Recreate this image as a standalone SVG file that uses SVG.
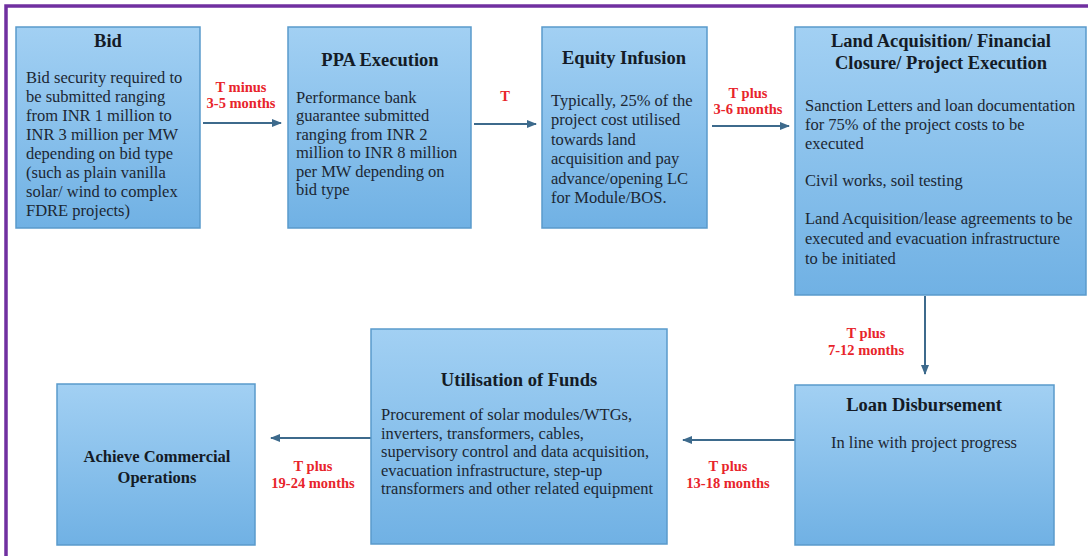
<svg xmlns="http://www.w3.org/2000/svg" width="1088" height="556" viewBox="0 0 1088 556">
<defs>
<linearGradient id="boxg" x1="0" y1="0" x2="0" y2="1">
<stop offset="0" stop-color="#a2d0f3"/>
<stop offset="1" stop-color="#70b1e4"/>
</linearGradient>
<marker id="ah" viewBox="0 0 10 10" refX="9" refY="5" markerWidth="5" markerHeight="5" orient="auto" markerUnits="strokeWidth">
<path d="M0,1 L10,5 L0,9 z" fill="#3d6a8c"/>
</marker>
<style>
.box{fill:url(#boxg);stroke:#5a9acb;stroke-width:1.5}
text{font-family:'Liberation Serif','Times New Roman',Times,'DejaVu Serif',serif}
.ttl{font-weight:bold;font-size:18.5px;fill:#141b26;text-anchor:middle}
.ttl2{font-weight:bold;font-size:16.5px;fill:#141b26;text-anchor:middle}
.body{font-size:16.5px;fill:#1c2733}
.lbl{font-weight:bold;font-size:14.5px;fill:#e8242b;text-anchor:middle}
.con{stroke:#3d6a8c;stroke-width:2;fill:none;marker-end:url(#ah)}
</style>
</defs>
<rect x="0" y="0" width="1088" height="556" fill="#ffffff"/>
<path d="M6,556 L6,6 L1088,6" fill="none" stroke="#7030a0" stroke-width="3.5"/>

<g id="connectors">
<line class="con" x1="203" y1="123" x2="281" y2="123"/>
<line class="con" x1="474" y1="124" x2="536" y2="124"/>
<line class="con" x1="712" y1="126" x2="789" y2="126"/>
<line class="con" x1="925" y1="296" x2="925" y2="374"/>
<line class="con" x1="795" y1="440" x2="683" y2="440"/>
<line class="con" x1="371" y1="438" x2="271" y2="438"/>
<text class="lbl" x="241" y="92">T minus</text>
<text class="lbl" x="241" y="108">3-5 months</text>
<text class="lbl" x="505" y="101">T</text>
<text class="lbl" x="748" y="98">T plus</text>
<text class="lbl" x="748" y="114">3-6 months</text>
<text class="lbl" x="866" y="338">T plus</text>
<text class="lbl" x="866" y="355">7-12 months</text>
<text class="lbl" x="728" y="471">T plus</text>
<text class="lbl" x="728" y="488">13-18 months</text>
<text class="lbl" x="313" y="471">T plus</text>
<text class="lbl" x="313" y="488">19-24 months</text>
</g>

<g id="bid">
<rect class="box" x="16" y="27" width="184" height="201"/>
<text class="ttl" x="108" y="47">Bid</text>
<text class="body" x="26" y="83">Bid security required to</text>
<text class="body" x="26" y="102">be submitted ranging</text>
<text class="body" x="26" y="121">from INR 1 million to</text>
<text class="body" x="26" y="140">INR 3 million per MW</text>
<text class="body" x="26" y="159">depending on bid type</text>
<text class="body" x="26" y="178">(such as plain vanilla</text>
<text class="body" x="26" y="197">solar/ wind to complex</text>
<text class="body" x="26" y="216">FDRE projects)</text>
</g>

<g id="ppa">
<rect class="box" x="288" y="27" width="183" height="201"/>
<text class="ttl" x="380" y="66">PPA Execution</text>
<text class="body" x="296" y="103">Performance bank</text>
<text class="body" x="296" y="121">guarantee submitted</text>
<text class="body" x="296" y="140">ranging  from INR 2</text>
<text class="body" x="296" y="158">million to INR 8 million</text>
<text class="body" x="296" y="177">per MW depending on</text>
<text class="body" x="296" y="195">bid type</text>
</g>

<g id="equity">
<rect class="box" x="542" y="27" width="165" height="201"/>
<text class="ttl" x="624" y="64">Equity Infusion</text>
<text class="body" x="551" y="106">Typically, 25% of the</text>
<text class="body" x="551" y="125">project cost utilised</text>
<text class="body" x="551" y="145">towards land</text>
<text class="body" x="551" y="164">acquisition and pay</text>
<text class="body" x="551" y="184">advance/opening LC</text>
<text class="body" x="551" y="203">for Module/BOS.</text>
</g>

<g id="land">
<rect class="box" x="795" y="27" width="291" height="268"/>
<text class="ttl" x="941" y="47">Land Acquisition/ Financial</text>
<text class="ttl" x="941" y="69">Closure/ Project Execution</text>
<text class="body" x="805" y="111">Sanction Letters and loan documentation</text>
<text class="body" x="805" y="130">for 75% of the project costs to be</text>
<text class="body" x="805" y="149">executed</text>
<text class="body" x="805" y="186">Civil works, soil testing</text>
<text class="body" x="805" y="224">Land Acquisition/lease  agreements to be</text>
<text class="body" x="805" y="244">executed and evacuation infrastructure</text>
<text class="body" x="805" y="264">to be initiated</text>
</g>

<g id="loan">
<rect class="box" x="795" y="385" width="259" height="160"/>
<text class="ttl" x="924" y="411">Loan Disbursement</text>
<text class="body" x="924" y="448" text-anchor="middle">In line with project progress</text>
</g>

<g id="utilisation">
<rect class="box" x="371" y="329" width="296" height="215"/>
<text class="ttl" x="519" y="386">Utilisation of Funds</text>
<text class="body" x="381" y="420">Procurement of solar modules/WTGs,</text>
<text class="body" x="381" y="439">inverters, transformers, cables,</text>
<text class="body" x="381" y="457">supervisory control and data acquisition,</text>
<text class="body" x="381" y="476">evacuation infrastructure, step-up</text>
<text class="body" x="381" y="494">transformers and other related equipment</text>
</g>

<g id="achieve">
<rect class="box" x="57" y="384" width="198" height="161"/>
<text class="ttl2" x="157" y="462">Achieve Commercial</text>
<text class="ttl2" x="157" y="483">Operations</text>
</g>
</svg>
